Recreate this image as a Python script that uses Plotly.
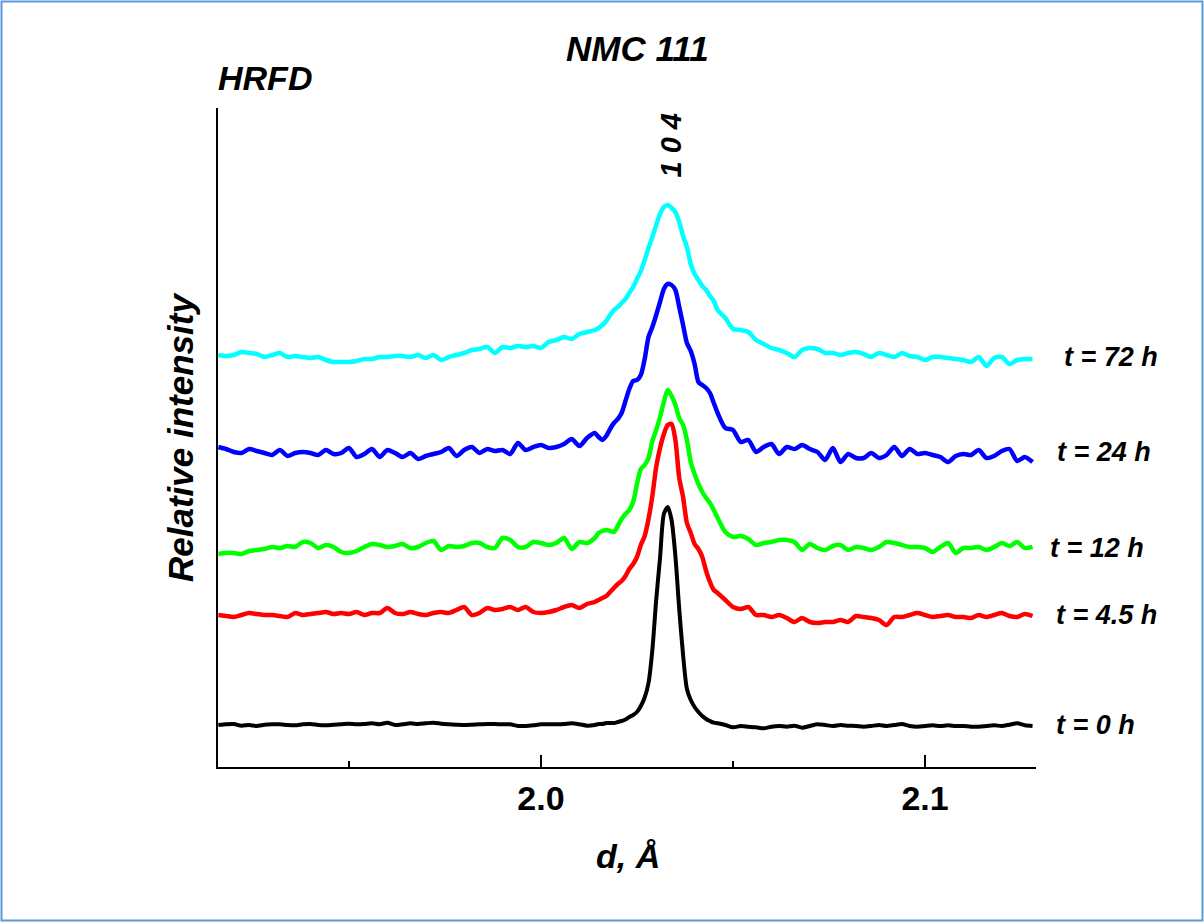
import numpy as np
import plotly.graph_objects as go

# d-spacing sampling grid (Angstrom): coarse wings, fine around the 104 peak
d_left = np.round(np.arange(1.916, 2.0141, 0.002), 3)
d_peak = np.round(np.arange(2.015, 2.0451, 0.001), 3)
d_right = np.round(np.arange(2.046, 2.1281, 0.002), 3)
d_values = np.concatenate([d_left, d_peak, d_right])

# Relative intensities (a.u., curves stacked with offsets as in the figure)
int_72h = [
    412, 411, 412, 415, 414, 413, 410, 412, 414, 410, 411, 410, 409, 410, 407, 405, 405, 405, 406, 408, 408, 410, 410, 411, 411, 410, 412,
    409, 412, 407, 410, 412, 414, 417, 418, 420, 414, 420, 419, 421, 420, 421, 419, 425, 427, 430, 428, 433, 435, 437,
    439, 442, 446, 452, 457, 460, 464, 468, 474, 480, 488, 496, 507, 519, 530, 542, 553, 560, 562, 559, 555, 545, 531, 520, 503, 493, 487, 481, 477, 471, 466,
    457, 449, 438, 437, 435, 427, 423, 419, 417, 414, 410, 417, 419, 418, 414, 414, 412, 414, 415,
    413, 410, 414, 412, 410, 414, 411, 410, 407, 410, 410, 409, 408, 407, 405, 410, 401, 409, 410, 403, 407, 408, 408,
]
int_24h = [
    320, 318, 315, 314, 318, 316, 314, 312, 317, 311, 314, 315, 314, 312, 317, 313, 314, 319, 310, 313, 318, 310, 317, 314, 310, 314, 308,
    311, 313, 315, 319, 311, 317, 320, 314, 318, 316, 317, 313, 324, 317, 320, 322, 319, 320, 323, 328, 321, 329, 334,
    330, 327, 331, 338, 344, 348, 354, 366, 378, 386, 387, 392, 408, 430, 440, 452, 465, 478, 483, 482, 477, 460, 442, 424, 416, 403, 385, 382, 379, 374, 364,
    354, 339, 337, 325, 327, 315, 320, 323, 313, 320, 318, 322, 318, 315, 307, 319, 305, 313, 309,
    309, 314, 309, 312, 320, 311, 318, 313, 314, 312, 310, 305, 311, 313, 312, 317, 309, 311, 316, 318, 306, 310, 305,
]
int_12h = [
    213, 214, 214, 213, 216, 217, 218, 220, 219, 221, 220, 225, 224, 219, 222, 220, 215, 214, 216, 220, 223, 222, 220, 221, 223, 219, 220,
    224, 226, 217, 221, 220, 221, 224, 224, 220, 219, 229, 227, 220, 220, 225, 224, 222, 224, 229, 218, 225, 224, 229,
    234, 236, 237, 236, 235, 241, 248, 253, 257, 265, 283, 298, 302, 309, 326, 337, 350, 365, 377, 371, 362, 349, 342, 327, 305, 293, 283, 275, 269, 264, 257,
    249, 235, 230, 231, 228, 222, 224, 225, 227, 227, 225, 217, 223, 219, 217, 221, 222, 217, 220,
    219, 217, 220, 225, 224, 222, 220, 220, 219, 215, 220, 224, 214, 219, 219, 220, 217, 220, 224, 221, 225, 219, 220,
]
int_4_5h = [
    152, 151, 150, 152, 154, 153, 152, 152, 151, 150, 154, 152, 153, 154, 155, 153, 154, 153, 155, 152, 154, 154, 159, 154, 153, 155, 153,
    152, 154, 155, 154, 157, 160, 152, 154, 159, 157, 158, 160, 157, 160, 155, 154, 155, 157, 160, 162, 159, 163, 165,
    167, 169, 171, 175, 179, 183, 186, 191, 198, 203, 210, 222, 231, 248, 271, 300, 319, 333, 342, 343, 327, 289, 270, 244, 234, 223, 218, 210, 196, 185, 177,
    174, 167, 160, 158, 160, 152, 152, 150, 152, 149, 145, 149, 145, 144, 145, 145, 147, 145, 151,
    150, 149, 147, 142, 150, 150, 152, 154, 152, 150, 151, 152, 150, 150, 149, 152, 150, 152, 154, 151, 150, 153, 151,
]
int_0h = [
    42, 42.7, 43, 41.3, 42, 41, 42.3, 42.7, 42.7, 42, 41.7, 42.7, 43, 42, 41.7, 42.3, 42.7, 43.3, 42.7, 43, 43.7, 42.7, 44.3, 42, 42.7, 43.7, 43,
    43.7, 44.3, 43.3, 42.7, 42.3, 42, 42.3, 42.7, 43, 43, 42.7, 42.7, 41, 41, 41.7, 42.7, 42.7, 42.7, 43, 43.7, 42.7, 41.3, 42,
    43, 43, 44, 44, 44, 45, 46, 47.5, 50, 52, 55, 61, 69.5, 84, 117, 167, 209, 253, 260, 247, 211, 158, 112, 78, 67, 60, 55, 51, 48, 46, 44.3,
    43.7, 42, 39.7, 41, 40.3, 39.7, 38.7, 40.3, 41, 40.3, 41.3, 39.3, 41, 42.7, 42, 41, 42, 41.3, 41,
    40.3, 41, 42, 41, 42, 43, 41, 40.3, 41, 41.7, 41, 41.7, 41, 41, 40.3, 40.3, 41, 41.7, 41, 42.3, 43.7, 41.7, 41,
]

series_names = ["t = 72 h", "t = 24 h", "t = 12 h", "t = 4.5 h", "t = 0 h"]
series_values = [int_72h, int_24h, int_12h, int_4_5h, int_0h]
series_colors = ["#00FFFF", "#0000FF", "#00FF00", "#FF0000", "#000000"]
series_widths = [4.5, 4.5, 4.5, 4.5, 4]

tick_values = [2.0, 2.1]
tick_labels = ["2.0", "2.1"]

FONT = "Liberation Sans, Arial, sans-serif"

fig = go.Figure()
for name, vals, col, w in zip(series_names, series_values, series_colors, series_widths):
    fig.add_trace(go.Scatter(
        x=d_values, y=vals, mode="lines", name=name,
        line=dict(color=col, width=w, shape="spline", smoothing=0.7),
        showlegend=False,
    ))

# plot area in pixels: x 218..1036, y 108..767
def xp(px):
    return (px - 218) / 818.0

def yp(py):
    return (767 - py) / 659.0

annotations = [
    dict(text="<b><i>NMC 111</i></b>", x=xp(637.5), y=yp(48), font=dict(size=35)),
    dict(text="<b><i>HRFD</i></b>", x=xp(215.5), y=yp(78), xanchor="left", font=dict(size=34)),
    dict(text="<b><i>1 0 4</i></b>", x=xp(670.5), y=yp(145), textangle=-90, font=dict(size=29)),
    dict(text="<b><i>Relative intensity</i></b>", x=xp(180), y=yp(438), textangle=-90, font=dict(size=35)),
    dict(text="<b><i>d, Å</i></b>", x=xp(627.5), y=yp(856), font=dict(size=34)),
]
label_pos = [(1062, 357), (1055, 452), (1048, 548), (1054, 615), (1054, 725)]
for name, (lx, ly) in zip(series_names, label_pos):
    annotations.append(dict(text="<b><i>%s</i></b>" % name, x=xp(lx), y=yp(ly), xanchor="left", font=dict(size=27)))

for a in annotations:
    a.setdefault("xanchor", "center")
    a.setdefault("yanchor", "middle")
    a["xref"] = "paper"
    a["yref"] = "paper"
    a["showarrow"] = False
    a["font"] = dict(family=FONT, color="black", size=a["font"]["size"])

fig.update_layout(
    width=1204, height=922,
    margin=dict(l=218, r=168, t=108, b=155, pad=0),
    paper_bgcolor="white", plot_bgcolor="white",
    annotations=annotations,
    xaxis=dict(
        range=[1.9159, 2.1289], showgrid=False, zeroline=False,
        showline=True, linecolor="black", linewidth=2,
        ticks="inside", ticklen=12, tickwidth=2, tickcolor="black",
        tickvals=tick_values, ticktext=tick_labels,
        tickfont=dict(family=FONT, size=34, color="black", weight="bold"),
        minor=dict(dtick=0.05, tick0=1.95, ticks="inside", ticklen=6, tickwidth=2, tickcolor="black"),
    ),
    yaxis=dict(
        range=[0, 659], showgrid=False, zeroline=False,
        showline=True, linecolor="black", linewidth=2,
        ticks="", showticklabels=False,
    ),
    shapes=[dict(
        type="rect", xref="paper", yref="paper",
        x0=xp(1.5), x1=xp(1202.5), y0=yp(920.5), y1=yp(1.5),
        line=dict(color="#5B9BD5", width=2), fillcolor="rgba(0,0,0,0)", layer="below",
    )],
)

fig.write_html("out.html")
